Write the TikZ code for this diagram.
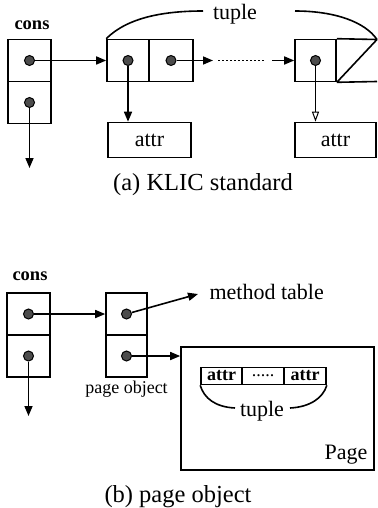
\documentclass[tikz,border=0pt]{standalone}
\usepackage{fontspec}
\setmainfont{Liberation Serif}
\usetikzlibrary{positioning,arrows.meta,calc}

\begin{document}
\begin{tikzpicture}[x=1pt,y=-1pt,
    cell/.style={rectangle,draw,line width=1.6pt,inner sep=0pt},
    dot/.style={circle,draw,fill=black!70,line width=1pt,minimum size=10pt,inner sep=0pt},
    arrow/.style={-{Triangle[length=10pt,width=8pt]},line width=1.6pt},
    oarrow/.style={-{Triangle[open,length=10pt,width=7pt]},line width=1pt},
    brace/.style={line width=1.6pt},
    lbl/.style={font=\fontsize{18.5}{20}\selectfont\bfseries},
    txt/.style={font=\fontsize{22}{24}\selectfont},
    small/.style={font=\fontsize{18}{20}\selectfont},
    capt/.style={font=\fontsize{24.5}{28}\selectfont}
]
\useasboundingbox (0,0) rectangle (377,508);

\node[lbl] (consA) at (32,25) {cons};
\node[cell,minimum width=43pt,minimum height=42pt] (a1) at (29.5,60.5) {};
\node[cell,minimum width=43pt,minimum height=42pt] (a2) at (29.5,102.5) {};
\node[cell,minimum width=42pt,minimum height=42pt] (t1) at (128,60.5) {};
\node[cell,minimum width=44pt,minimum height=42pt] (t2) at (171,60.5) {};
\node[cell,minimum width=41pt,minimum height=42pt] (tn) at (315.5,60.5) {};
\coordinate (tnr) at (377,39.5);
\coordinate (tnb) at (377,81.5);
\draw[line width=1.6pt] (tn.north east) -- (tnr) (tn.south east) -- (tnb) (tn.south east) -- (tnr);
\node[cell,txt,minimum width=83pt,minimum height=35pt] (at1) at (149.5,140) {attr};
\node[cell,txt,minimum width=81pt,minimum height=35pt] (at2) at (335.5,140) {attr};

\node[dot] (a1d) at (a1) {};
\node[dot] (a2d) at (a2) {};
\node[dot] (t1d) at (t1) {};
\node[dot] (t2d) at (t2) {};
\node[dot] (tnd) at (tn) {};
\coordinate (a2e) at (29.5,168);
\coordinate (dl) at (213,60.5);
\coordinate (dl2) at (218,60.5);
\coordinate (dr2) at (264,60.5);
\coordinate (dr) at (272,60.5);

\draw[arrow] (a1d) -- (t1.west);
\draw[arrow] (a2d) -- (a2e);
\draw[arrow] (t1d) -- (t1d |- at1.north);
\draw[arrow] (t2d) -- (dl);
\draw[line width=1.8pt,dash pattern=on 1.6pt off 2.4pt] (dl2) -- (dr2);
\draw[arrow] (dr) -- (tn.west);
\draw[oarrow] (tnd) -- (tnd |- at2.north);

\node[txt] (tupA) at (235,14) {tuple};
\draw[brace] (t1.north west) .. controls (128,17) and (165,11) .. (203,11);
\draw[brace] (295,11) .. controls (335,11) and (365,22) .. (tnr);

\node[capt] (capA) at (203,185) {(a) KLIC standard};

\node[lbl] (consB) at (30,276) {cons};
\node[cell,minimum width=43pt,minimum height=42pt] (b1) at (28.5,314) {};
\node[cell,minimum width=43pt,minimum height=42pt] (b2) at (28.5,356) {};
\node[cell,minimum width=41pt,minimum height=42pt] (p1) at (126.5,314) {};
\node[cell,minimum width=41pt,minimum height=42pt] (p2) at (126.5,356) {};
\node[small] (pobj) at (126.5,389) {page object};
\node[dot] (b1d) at (b1) {};
\node[dot] (b2d) at (b2) {};
\node[dot] (p1d) at (p1) {};
\node[dot] (p2d) at (p2) {};
\coordinate (b2e) at (28.5,416);
\coordinate (mt) at (198,294);
\node[txt,anchor=west] (meth) at (206,292) {method table};

\node[cell,minimum width=193pt,minimum height=123pt] (page) at (277.5,408.5) {};
\node[cell,font=\fontsize{18}{20}\selectfont\bfseries,minimum width=41pt,minimum height=17pt] (c1) at (221.5,376) {attr};
\node[cell,small,minimum width=42pt,minimum height=17pt] (c2) at (263,376) {.....};
\node[cell,font=\fontsize{18}{20}\selectfont\bfseries,minimum width=42pt,minimum height=17pt] (c3) at (305,376) {attr};
\node[txt] (tupB) at (262,411) {tuple};
\draw[brace] (c1.south west) .. controls (204,398) and (215,407) .. (235,408);
\draw[brace] (290,408) .. controls (310,407) and (323,398) .. (c3.south east);
\node[txt] (pname) at (346,455) {Page};

\draw[arrow] (b1d) -- (p1.west);
\draw[arrow] (b2d) -- (b2e);
\draw[arrow] (p1d) -- (mt);
\draw[arrow] (p2d) -- (p2d -| page.west);

\node[capt] (capB) at (178,497) {(b) page object};
\end{tikzpicture}
\end{document}
